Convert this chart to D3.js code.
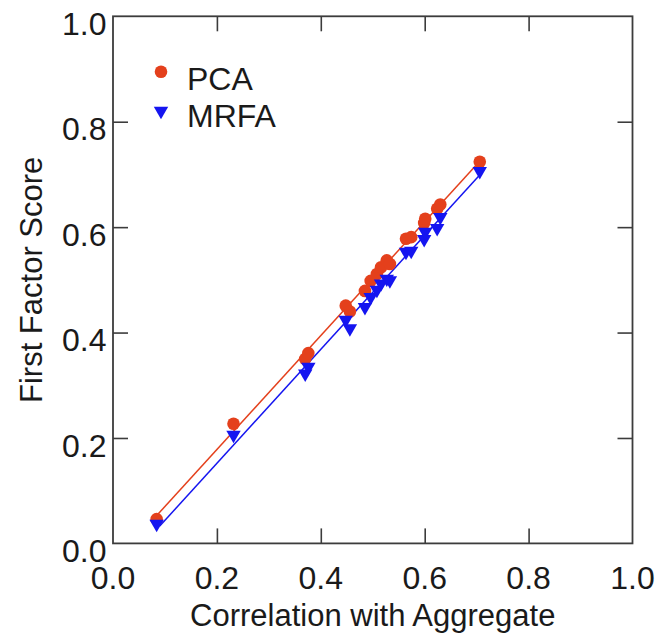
<!DOCTYPE html>
<html>
<head>
<meta charset="utf-8">
<script src="https://cdn.jsdelivr.net/npm/d3@7"></script>
<style>
  html, body { margin: 0; padding: 0; background: #fff; }
  svg text { font-family: "Liberation Sans", Arial, Helvetica, sans-serif; fill: #1a1a1a; }
</style>
</head>
<body>
<svg id="chart" width="657" height="636"></svg>
<script>
// ---- data ----
const corr = [0.084, 0.232, 0.370, 0.376, 0.448, 0.456, 0.485, 0.496, 0.508, 0.516, 0.527, 0.533, 0.564, 0.574, 0.599, 0.601, 0.624, 0.630, 0.706];
const pca  = [0.046, 0.227, 0.350, 0.361, 0.451, 0.440, 0.479, 0.498, 0.511, 0.524, 0.537, 0.530, 0.578, 0.581, 0.608, 0.616, 0.635, 0.643, 0.724];
const mrfa = [0.037, 0.206, 0.322, 0.335, 0.424, 0.408, 0.448, 0.467, 0.481, 0.493, 0.502, 0.499, 0.553, 0.555, 0.577, 0.591, 0.598, 0.619, 0.706];
const pcaFitX  = [0.081, 0.705];
const pcaFitY  = [0.0495, 0.724];
const mrfaFitX = [0.090, 0.705];
const mrfaFitY = [0.033, 0.698];
const xTicks = [0.0, 0.2, 0.4, 0.6, 0.8, 1.0];
const yTicks = [0.0, 0.2, 0.4, 0.6, 0.8, 1.0];
const seriesNames = ["PCA", "MRFA"];
const xTitle = "Correlation with Aggregate";
const yTitle = "First Factor Score";

// ---- layout ----
const mLeft = 113, mRight = 632.5, mTop = 16.3, mBottom = 543.4;
const red = "#e4401c", blue = "#1515f0";
const axisColor = "#3c3c3c";

const svg = d3.select("#chart");
const x = d3.scaleLinear().domain([0, 1]).range([mLeft, mRight]);
const y = d3.scaleLinear().domain([0, 1]).range([mBottom, mTop]);

const innerTicks = [0.2, 0.4, 0.6, 0.8];
const tickLen = 15;

const axisStyle = g => {
  g.select(".domain").remove();
  g.selectAll(".tick line").attr("stroke", axisColor).attr("stroke-width", 1.6);
  g.selectAll(".tick text").remove();
};
svg.append("g").attr("transform", `translate(0,${mBottom})`)
  .call(d3.axisBottom(x).tickValues(innerTicks).tickSizeInner(-tickLen).tickSizeOuter(0)).call(axisStyle);
svg.append("g").attr("transform", `translate(0,${mTop})`)
  .call(d3.axisTop(x).tickValues(innerTicks).tickSizeInner(-tickLen).tickSizeOuter(0)).call(axisStyle);
svg.append("g").attr("transform", `translate(${mLeft},0)`)
  .call(d3.axisLeft(y).tickValues(innerTicks).tickSizeInner(-tickLen).tickSizeOuter(0)).call(axisStyle);
svg.append("g").attr("transform", `translate(${mRight},0)`)
  .call(d3.axisRight(y).tickValues(innerTicks).tickSizeInner(-tickLen).tickSizeOuter(0)).call(axisStyle);

// frame
svg.append("rect")
  .attr("x", mLeft).attr("y", mTop)
  .attr("width", mRight - mLeft).attr("height", mBottom - mTop)
  .attr("fill", "none").attr("stroke", axisColor).attr("stroke-width", 1.8);

// tick labels
svg.append("g").selectAll("text").data(xTicks).join("text")
  .attr("x", d => x(d)).attr("y", mBottom + 46)
  .attr("text-anchor", "middle").attr("font-size", 32)
  .text(d => d.toFixed(1));
svg.append("g").selectAll("text").data(yTicks).join("text")
  .attr("x", 106.5).attr("y", d => y(d) + 18.7)
  .attr("text-anchor", "end").attr("font-size", 32)
  .text(d => d.toFixed(1));

// titles
svg.append("text")
  .attr("x", (mLeft + mRight) / 2).attr("y", 626)
  .attr("text-anchor", "middle").attr("font-size", 31)
  .text(xTitle);
svg.append("text")
  .attr("transform", `translate(41.5,${(mTop + mBottom) / 2}) rotate(-90)`)
  .attr("text-anchor", "middle").attr("font-size", 31)
  .text(yTitle);

// fit lines
const line = d3.line().x(d => x(d[0])).y(d => y(d[1]));
svg.append("path").datum(d3.zip(pcaFitX, pcaFitY))
  .attr("d", line).attr("fill", "none").attr("stroke", red).attr("stroke-width", 1.5);
svg.append("path").datum(d3.zip(mrfaFitX, mrfaFitY))
  .attr("d", line).attr("fill", "none").attr("stroke", blue).attr("stroke-width", 1.5);

// points
const tri = d3.symbol().type(d3.symbolTriangle).size(90);
const circ = d3.symbol().type(d3.symbolCircle).size(125);
svg.append("g").selectAll("path").data(d3.zip(corr, pca)).join("path")
  .attr("d", circ)
  .attr("transform", d => `translate(${x(d[0])},${y(d[1])})`)
  .attr("fill", red);
svg.append("g").selectAll("path").data(d3.zip(corr, mrfa)).join("path")
  .attr("d", tri)
  .attr("transform", d => `translate(${x(d[0])},${y(d[1])}) rotate(180)`)
  .attr("fill", blue);

// legend
const leg = svg.append("g");
leg.append("path").attr("d", circ).attr("transform", "translate(161,71.7)").attr("fill", red);
leg.append("path").attr("d", tri).attr("transform", "translate(161,111) rotate(180)").attr("fill", blue);
leg.append("text").attr("x", 187).attr("y", 90).attr("font-size", 32).text(seriesNames[0]);
leg.append("text").attr("x", 187).attr("y", 127).attr("font-size", 32).text(seriesNames[1]);
</script>
</body>
</html>
